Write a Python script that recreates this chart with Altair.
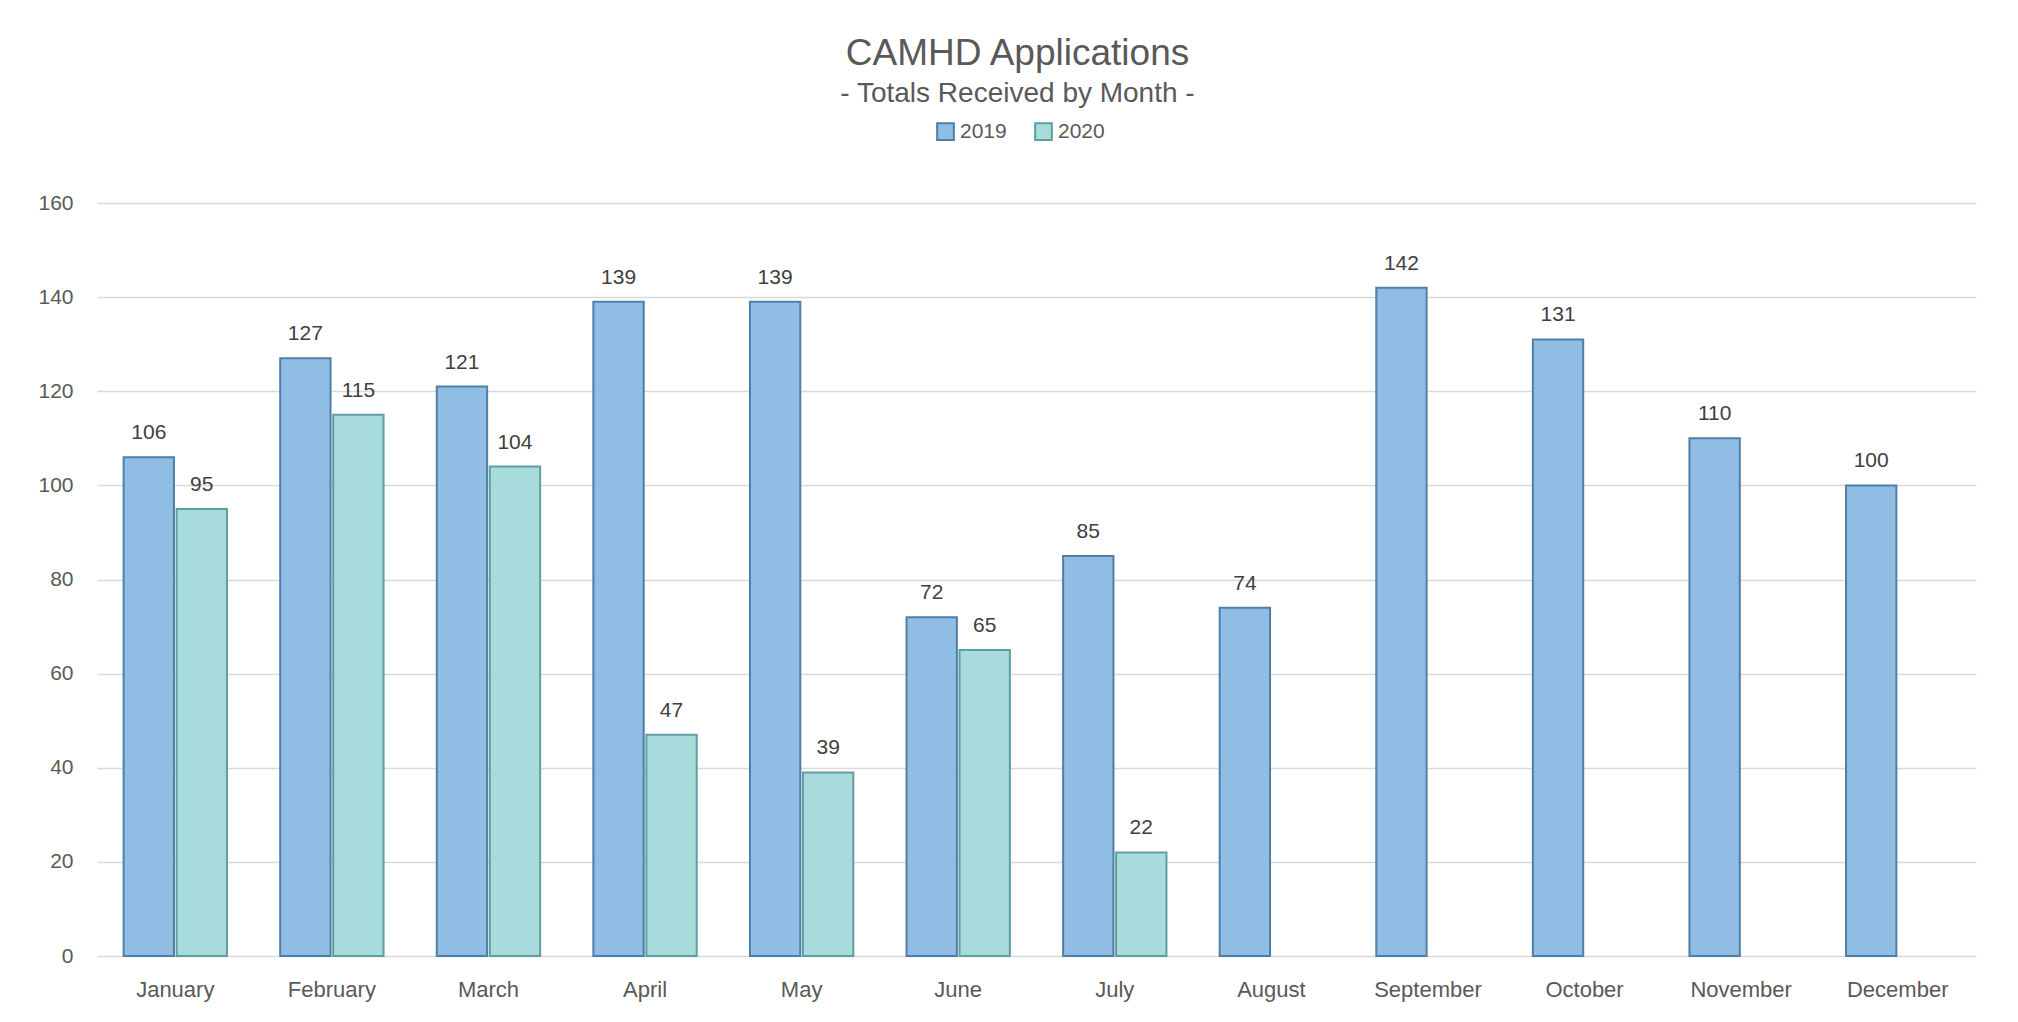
import altair as alt
import pandas as pd

months = ["January", "February", "March", "April", "May", "June", "July",
          "August", "September", "October", "November", "December"]
v2019 = [106, 127, 121, 139, 139, 72, 85, 74, 142, 131, 110, 100]
v2020 = [95, 115, 104, 47, 39, 65, 22, None, None, None, None, None]
years = ["2019", "2020"]

rows = []
for m, a, b in zip(months, v2019, v2020):
    rows.append({"month": m, "year": "2019", "value": a})
    if b is not None:
        rows.append({"month": m, "year": "2020", "value": b})
df = pd.DataFrame(rows)

FONT = "Liberation Sans"
TXT = "#595959"

fill_scale = alt.Scale(domain=years, range=["#8fbde3", "#a8dcdc"])
stroke_scale = alt.Scale(domain=years, range=["#4f7fa6", "#5f9ea0"])

x = alt.X("month:N", sort=months, title=None,
          scale=alt.Scale(paddingInner=0.34, paddingOuter=0.17),
          axis=alt.Axis(labelAngle=0, ticks=False, domain=False, grid=False,
                        labelFontSize=22, labelColor=TXT, labelFont=FONT,
                        labelPadding=23))
xoff = alt.XOffset("year:N", scale=alt.Scale(domain=years, paddingInner=0.05))
y = alt.Y("value:Q", title=None,
          scale=alt.Scale(domain=[0, 160]),
          axis=alt.Axis(values=[0, 20, 40, 60, 80, 100, 120, 140, 160],
                        ticks=False, domain=False, grid=True,
                        gridColor="#d9d9d9", gridWidth=1.5,
                        labelFontSize=21, labelColor=TXT, labelFont=FONT,
                        labelPadding=24))

base = alt.Chart(df).encode(x=x, xOffset=xoff, y=y)

bars = base.mark_bar(strokeWidth=2).encode(
    fill=alt.Fill("year:N", scale=fill_scale,
                  legend=alt.Legend(title=None, orient="none", legendX=838,
                                    legendY=-82, direction="horizontal",
                                    symbolType="square", symbolSize=280,
                                    symbolStrokeWidth=2,
                                    labelFontSize=21, labelColor=TXT,
                                    labelFont=FONT, columnPadding=24,
                                    labelOffset=4)),
    stroke=alt.Stroke("year:N", scale=stroke_scale, legend=None),
)

labels = base.mark_text(baseline="bottom", dy=-14, fontSize=21,
                        font=FONT, color="#404040").encode(text="value:Q")

chart = (bars + labels).properties(
    width=1879, height=753,
    padding={"left": 89, "top": 195, "right": 34, "bottom": 58},
    autosize=alt.AutoSizeParams(type="none"),
    title=alt.TitleParams("CAMHD Applications",
                          subtitle="- Totals Received by Month -",
                          font=FONT, fontSize=37, fontWeight="normal",
                          color=TXT, subtitleFont=FONT, subtitleFontSize=28,
                          subtitleColor=TXT, anchor="middle", offset=12,
                          dx=-19, subtitlePadding=7),
).configure(background="white").configure_view(strokeWidth=0, stroke="transparent")

chart.save("out.html", embed_options={"renderer": "svg", "actions": False})
